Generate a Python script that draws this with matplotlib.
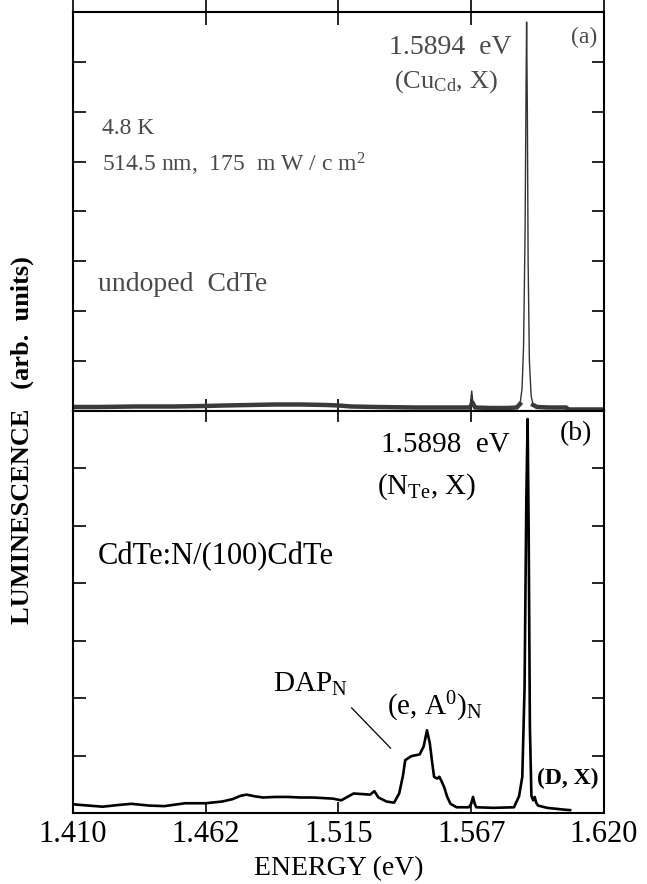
import matplotlib
matplotlib.use('Agg')
import matplotlib.pyplot as plt
import numpy as np

plt.rcParams['font.family'] = ['Liberation Serif', 'DejaVu Serif']
plt.rcParams['mathtext.fontset'] = 'custom'
plt.rcParams['mathtext.rm'] = 'Liberation Serif'
plt.rcParams['mathtext.it'] = 'Liberation Serif:italic'
plt.rcParams['mathtext.bf'] = 'Liberation Serif:bold'

# (a) undoped CdTe, arbitrary units (axis 0..8)
energy_a = [1.410, 1.420, 1.435, 1.450, 1.462, 1.470, 1.480, 1.490, 1.500, 1.510,
            1.515, 1.520, 1.530, 1.545, 1.555, 1.562, 1.5665, 1.5672, 1.5677, 1.5682,
            1.5690, 1.575, 1.582, 1.5855, 1.5868, 1.5876, 1.5882, 1.5888, 1.5892, 1.5894,
            1.5897, 1.5900, 1.5905, 1.5912, 1.5920, 1.5935, 1.598, 1.605, 1.606, 1.620]
intens_a = [0.08, 0.08, 0.09, 0.09, 0.10, 0.11, 0.12, 0.13, 0.13, 0.12,
            0.11, 0.09, 0.08, 0.07, 0.07, 0.07, 0.07, 0.16, 0.40, 0.15,
            0.07, 0.06, 0.06, 0.07, 0.14, 0.45, 1.3, 3.6, 6.6, 7.8,
            6.0, 3.0, 1.0, 0.3, 0.12, 0.08, 0.07, 0.07, 0.03, 0.03]

# (b) CdTe:N/(100)CdTe, arbitrary units (axis 0..7)
energy_b = [1.4105, 1.4160, 1.4217, 1.4280, 1.4331, 1.4400, 1.4461, 1.4543, 1.4624, 1.4690,
            1.4730, 1.4763, 1.4787, 1.4820, 1.4852, 1.4900, 1.4950, 1.5000, 1.5048, 1.5090,
            1.5129, 1.5161, 1.5185, 1.5210, 1.5243, 1.5275, 1.5292, 1.5308, 1.5340, 1.5370,
            1.5390, 1.5405, 1.5414, 1.5438, 1.5471, 1.5487, 1.5500, 1.5511, 1.5520, 1.5528,
            1.5540, 1.5549, 1.5558, 1.5568, 1.5580, 1.5593, 1.5617, 1.5666, 1.5675, 1.5682,
            1.5689, 1.5695, 1.5763, 1.5844, 1.5864, 1.5877, 1.5886, 1.5893, 1.5898, 1.5902,
            1.5907, 1.5913, 1.5920, 1.5926, 1.5932, 1.5939, 1.5975, 1.6040, 1.6066]
intens_b = [0.15, 0.13, 0.11, 0.14, 0.16, 0.13, 0.12, 0.17, 0.17, 0.20,
            0.24, 0.30, 0.32, 0.29, 0.27, 0.28, 0.28, 0.27, 0.27, 0.26,
            0.25, 0.22, 0.28, 0.34, 0.33, 0.32, 0.38, 0.27, 0.20, 0.18,
            0.34, 0.65, 0.92, 0.99, 1.02, 1.16, 1.44, 1.22, 0.90, 0.63,
            0.60, 0.63, 0.55, 0.45, 0.28, 0.16, 0.10, 0.10, 0.16, 0.28,
            0.16, 0.10, 0.09, 0.10, 0.29, 0.63, 2.2, 5.5, 6.86, 5.0,
            1.5, 0.30, 0.22, 0.28, 0.18, 0.13, 0.09, 0.06, 0.05]

xticks = [1.410, 1.4625, 1.515, 1.5675, 1.620]
xtick_labels = ['1.410', '1.462', '1.515', '1.567', '1.620']

# leader line from DAP_N label towards the band
dap_line_x = [1.5202, 1.5356]
dap_line_y = [1.83, 1.13]

gray = '#4a4a4a'

fig = plt.figure(figsize=(6.47, 8.84), dpi=100)
ax_a = fig.add_axes([0.1128, 0.5351, 0.8207, 0.4513])
ax_b = fig.add_axes([0.1128, 0.0803, 0.8207, 0.4548])

for ax in (ax_a, ax_b):
    ax.set_xlim(1.410, 1.620)
    for sp in ax.spines.values():
        sp.set_linewidth(1.5)
    ax.set_xticks(xticks)
    ax.tick_params(direction='in', length=9, width=1.2, top=True, right=True)

# panel (a)
ax_a.plot(energy_a, intens_a, color='#333333', lw=1.0)
ax_a.plot(energy_a, np.ma.masked_greater(intens_a, 0.15), color='#3a3a3a', lw=3.2)
ax_a.set_ylim(0, 8)
ax_a.set_yticks(range(9))
ax_a.set_yticklabels([])
ax_a.tick_params(axis='x', which='both', bottom=True, direction='inout', length=18)
ax_a.tick_params(axis='x', top=True)
ax_a.set_xticklabels([])

ax_a.text(0.987, 0.937, '(a)', transform=ax_a.transAxes, ha='right', va='center',
          fontsize=17, color=gray)
ax_a.text(0.825, 0.912, '1.5894  eV', transform=ax_a.transAxes, ha='right', va='center',
          fontsize=20, color=gray)
ax_a.text(0.703, 0.825, r'(Cu$_{\mathrm{Cd}}$, X)', transform=ax_a.transAxes, ha='center',
          va='center', fontsize=19, color=gray)
ax_a.text(0.055, 0.709, '4.8 K', transform=ax_a.transAxes, ha='left', va='center',
          fontsize=17, color=gray)
ax_a.text(0.055, 0.617, r'514.5 nm,  175  m W / c m$^2$', transform=ax_a.transAxes,
          ha='left', va='center', fontsize=17, color=gray)
ax_a.text(0.047, 0.316, 'undoped  CdTe', transform=ax_a.transAxes, ha='left', va='center',
          fontsize=20, color=gray)

# panel (b)
ax_b.plot(energy_b, intens_b, color='black', lw=1.9)
ax_b.plot(dap_line_x, dap_line_y, color='black', lw=0.9)
ax_b.set_ylim(0, 7)
ax_b.set_yticks(range(8))
ax_b.set_yticklabels([])
ax_b.tick_params(axis='x', length=8)
ax_b.set_xticklabels(xtick_labels, fontsize=22)
ax_b.tick_params(axis='x', pad=5)
ax_b.set_xlabel('ENERGY (eV)', fontsize=20, labelpad=5)

ax_b.text(0.977, 0.943, '(b)', transform=ax_b.transAxes, ha='right', va='center', fontsize=20)
ax_b.text(0.823, 0.915, '1.5898  eV', transform=ax_b.transAxes, ha='right', va='center',
          fontsize=21)
ax_b.text(0.572, 0.811, r'(N$_{\mathrm{Te}}$, X)', transform=ax_b.transAxes, ha='left',
          va='center', fontsize=21)
ax_b.text(0.047, 0.639, 'CdTe:N/(100)CdTe', transform=ax_b.transAxes, ha='left',
          va='center', fontsize=22)
ax_b.text(0.377, 0.321, r'DAP$_{\mathrm{N}}$', transform=ax_b.transAxes, ha='left',
          va='center', fontsize=21)
ax_b.text(0.591, 0.264, r'(e, A$^{0}$)$_{\mathrm{N}}$', transform=ax_b.transAxes, ha='left',
          va='center', fontsize=21)
ax_b.text(0.989, 0.085, '(D, X)', transform=ax_b.transAxes, ha='right', va='center',
          fontsize=17, fontweight='bold')

fig.text(0.034, 0.502, 'LUMINESCENCE   (arb.  units)', rotation=90, ha='center',
         va='center', fontsize=19, fontweight='bold')

fig.savefig('out.png', dpi=100)
